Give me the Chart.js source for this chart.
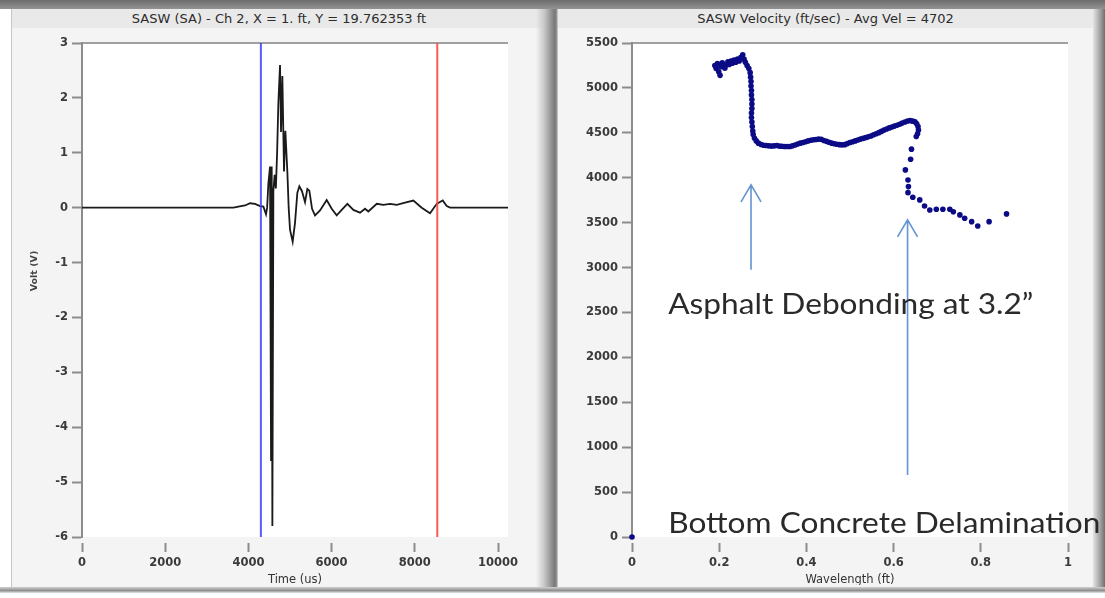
<!DOCTYPE html>
<html>
<head>
<meta charset="utf-8">
<script src="https://cdn.jsdelivr.net/npm/chart.js@4.4.1/dist/chart.umd.min.js"></script>
<style>
  html, body { margin: 0; padding: 0; background: #fff; }
  #stage { position: relative; width: 1105px; height: 598px; overflow: hidden; background: #fff; font-family: "DejaVu Sans", sans-serif; }
  .topbar { position: absolute; left: 0; top: 0; width: 1105px; height: 9px; background: linear-gradient(#6c6c6c, #939393); }
  .panel { position: absolute; top: 9px; height: 578px; background: #f4f4f4; }
  .ptitle { position: absolute; left: 0; right: 0; top: 0; height: 19px; line-height: 19px; text-align: center; font-size: 13px; color: #2c2c2c; background: #e9e9e9; white-space: nowrap; }
  #leftPanel { left: 11px; width: 534px; border-left: 1px solid #c6c6c6; }
  #rightPanel { left: 558px; width: 535px; }
  .sep { position: absolute; left: 536px; top: 9px; width: 22px; height: 578px; background: linear-gradient(to right, rgba(200,200,200,0) 0px, #c9c9c9 8px, #777 19px, #999 21px, #e8e8e8 22px); }
  .redge { position: absolute; left: 1093px; top: 9px; width: 12px; height: 578px; background: linear-gradient(to right, #e4e4e4, #9a9a9a 8px, #6e6e6e); }
  .bottom { position: absolute; left: 0; top: 587px; width: 1105px; height: 6px; background: linear-gradient(#d0d0d0, #8e8e8e 60%, #e6e6e6); }
  canvas { position: absolute; }
  #waveCanvas { left: 12px; top: 28px; }
  #velCanvas { left: 558px; top: 28px; }
</style>
</head>
<body>
<div id="stage">
  <div class="topbar"></div>
  <div class="panel" id="leftPanel"><div class="ptitle">SASW (SA) - Ch 2, X = 1. ft, Y = 19.762353 ft</div></div>
  <div class="panel" id="rightPanel"><div class="ptitle">SASW Velocity (ft/sec) - Avg Vel = 4702</div></div>
  <div class="sep"></div>
  <div class="redge"></div>
  <div class="bottom"></div>
  <canvas id="waveCanvas" width="533" height="557"></canvas>
  <canvas id="velCanvas" width="547" height="557"></canvas>
</div>
<script>
// ---- Time record (channel 2) ----
const timeUs = [0, 3600, 3640, 3760, 3920, 4040, 4160, 4280, 4360, 4423, 4450, 4480, 4520, 4544, 4560, 4576, 4600,
  4630, 4660, 4690, 4720, 4760, 4784, 4816, 4856, 4888, 4936, 4968, 5000, 5064, 5120, 5176, 5224, 5288, 5361, 5417,
  5465, 5530, 5601, 5722, 5882, 6002, 6122, 6243, 6379, 6523, 6683, 6803, 6883, 7085, 7244, 7404, 7565, 7765, 7965,
  8166, 8366, 8527, 8671, 8767, 8847, 10240];
const voltV = [0, 0, 0.0, 0.02, 0.04, 0.08, 0.07, 0.03, 0.02, -0.12, 0.0, 0.44, 0.75, -4.6, 0.75, -5.8, 0.3,
  0.6, 0.35, 1.0, 1.9, 2.6, 1.38, 2.4, 0.66, 1.4, 0.66, 0.0, -0.4, -0.62, -0.28, 0.27, 0.39, 0.3, 0.1, 0.34,
  0.31, -0.02, -0.14, -0.05, 0.14, -0.02, -0.14, -0.04, 0.07, -0.04, -0.09, -0.02, -0.07, 0.07, 0.05, 0.07, 0.05, 0.09, 0.13,
  0.0, -0.1, 0.07, 0.13, 0.03, 0, 0];
const blueCursorUs = 4300;
const redCursorUs = 8540;
const timeTicks = [0, 2000, 4000, 6000, 8000, 10000];
const voltTicks = [3, 2, 1, 0, -1, -2, -3, -4, -5, -6];

// ---- Dispersion curve ----
const wavelengthFt = [0,
  0.190, 0.193, 0.196, 0.199, 0.202, 0.204, 0.207, 0.210, 0.213, 0.216, 0.220, 0.223, 0.227, 0.230, 0.234, 0.238,
  0.242, 0.246, 0.250, 0.254, 0.257, 0.260, 0.264, 0.268,
  0.271, 0.272, 0.273, 0.273, 0.274, 0.274, 0.275, 0.275, 0.275, 0.274, 0.274, 0.275, 0.276, 0.277, 0.278, 0.281,
  0.285, 0.290,
  0.296, 0.302, 0.308, 0.314, 0.320, 0.326, 0.332, 0.338, 0.344, 0.350, 0.356, 0.362, 0.368, 0.374, 0.380, 0.386,
  0.392, 0.398, 0.404, 0.410, 0.416, 0.422, 0.428, 0.434, 0.440, 0.446, 0.452, 0.458, 0.464, 0.470, 0.476, 0.482,
  0.488, 0.494, 0.500, 0.506, 0.512, 0.518, 0.524, 0.530, 0.536, 0.542, 0.548, 0.554, 0.560, 0.566, 0.572, 0.578,
  0.584, 0.590, 0.596, 0.602, 0.608, 0.614, 0.620, 0.626, 0.632, 0.638, 0.644, 0.649, 0.653, 0.656, 0.657, 0.655,
  0.652,
  0.641, 0.639, 0.627, 0.633, 0.634, 0.633, 0.644, 0.660, 0.671, 0.683, 0.698, 0.713, 0.729, 0.737, 0.752, 0.763,
  0.779, 0.793, 0.819, 0.859];
const velocityFtSec = [0,
  5250, 5215, 5270, 5180, 5140, 5235, 5280, 5250, 5220, 5255, 5290, 5260, 5300, 5275, 5310, 5285,
  5320, 5300, 5340, 5370, 5320, 5285, 5250, 5215,
  5170, 5120, 5070, 5020, 4970, 4920, 4870, 4820, 4770, 4720, 4670, 4620, 4570, 4520, 4480, 4440,
  4410, 4385,
  4370, 4362, 4358, 4355, 4352, 4355, 4358, 4352, 4350, 4348, 4347, 4348, 4355, 4365, 4375, 4385,
  4392, 4400, 4410, 4418, 4422, 4426, 4430, 4428, 4415, 4405, 4395, 4385, 4378, 4372, 4368, 4366,
  4368, 4380, 4392, 4400, 4410, 4420, 4430, 4438, 4446, 4455, 4465, 4478, 4490, 4502, 4516, 4530,
  4542, 4555, 4565, 4575, 4585, 4595, 4608, 4620, 4632, 4636, 4630, 4622, 4600, 4570, 4532, 4490,
  4458,
  4318, 4206, 4087, 3975, 3901, 3834, 3783, 3753, 3686, 3641, 3649, 3649, 3649, 3622, 3586, 3549,
  3511, 3463, 3511, 3597];
const wavelengthTicks = [0, 0.2, 0.4, 0.6, 0.8, 1];
const velocityTicks = [0, 500, 1000, 1500, 2000, 2500, 3000, 3500, 4000, 4500, 5000, 5500];

// Callout labels and arrows on the dispersion plot (wavelength, velocity)
const noteText = ['Asphalt Debonding at 3.2\u201D', 'Bottom Concrete Delamination'];
const noteWavelength = [0.083, 0.083];
const noteVelocity = [2483, 45];
const arrowWavelength = [0.273, 0.632];
const arrowFromVelocity = [2975, 690];
const arrowToVelocity = [3920, 3530];

const AXIS_GREY = '#8c8c8c';
const TICK_FONT = { family: 'DejaVu Sans', size: 11.5, weight: 'bold' };

// white plotting field with a grey rule along its top edge
const plotFrame = {
  id: 'plotFrame',
  beforeDraw(chart) {
    const { ctx, chartArea: a } = chart;
    ctx.save();
    ctx.fillStyle = '#ffffff';
    ctx.fillRect(a.left, a.top, a.right - a.left, a.bottom - a.top);
    ctx.strokeStyle = '#a0a0a0';
    ctx.lineWidth = 2;
    ctx.beginPath();
    ctx.moveTo(a.left, a.top);
    ctx.lineTo(a.right, a.top);
    ctx.stroke();
    ctx.restore();
  }
};

// rotated y-axis caption, sitting a little above the axis middle
const voltCaption = {
  id: 'voltCaption',
  afterDraw(chart) {
    const { ctx } = chart;
    ctx.save();
    ctx.translate(23, 243);
    ctx.rotate(-Math.PI / 2);
    ctx.font = 'bold 9.5px "DejaVu Sans"';
    ctx.fillStyle = '#444';
    ctx.textAlign = 'center';
    ctx.textBaseline = 'middle';
    ctx.fillText('Volt (V)', 0, 0);
    ctx.restore();
  }
};

function fixedTicks(values) {
  return scale => { scale.ticks = values.map(v => ({ value: v })); };
}

function xAxis(min, max, ticks, title, height) {
  return {
    type: 'linear', min, max,
    afterBuildTicks: fixedTicks(ticks),
    afterFit: s => { s.height = height; },
    border: { display: false },
    grid: { drawOnChartArea: false, drawTicks: true, tickLength: 16, tickWidth: 2, tickColor: AXIS_GREY, tickBorderDash: [0, 6, 9, 60] },
    ticks: { font: TICK_FONT, color: '#3a3a3a', padding: 3, maxRotation: 0, callback: v => String(v) },
    title: { display: true, text: title, font: { family: 'DejaVu Sans', size: 11.5 }, color: '#333', padding: { top: 0, bottom: -2 } }
  };
}

function yAxis(min, max, ticks, width) {
  return {
    type: 'linear', min, max,
    afterBuildTicks: fixedTicks(ticks),
    afterFit: s => { s.width = width; },
    border: { display: true, color: AXIS_GREY, width: 2 },
    grid: { drawOnChartArea: false, drawTicks: true, tickLength: 10, tickWidth: 2, tickColor: AXIS_GREY },
    ticks: { font: TICK_FONT, color: '#3a3a3a', padding: 4, callback: v => String(v) },
    title: { display: false }
  };
}

// ---- Left: time record with the two window cursors ----
new Chart(document.getElementById('waveCanvas'), {
  type: 'scatter',
  data: {
    datasets: [
      {
        data: timeUs.map((t, i) => ({ x: t, y: voltV[i] })),
        showLine: true, borderColor: '#1a1a1a', borderWidth: 1.8, pointRadius: 0, tension: 0, order: 2
      },
      {
        data: [{ x: blueCursorUs, y: -6 }, { x: blueCursorUs, y: 3 }],
        showLine: true, borderColor: 'rgba(60,60,255,0.85)', borderWidth: 2, pointRadius: 0, order: 1
      },
      {
        data: [{ x: redCursorUs, y: -6 }, { x: redCursorUs, y: 3 }],
        showLine: true, borderColor: 'rgba(255,70,70,0.9)', borderWidth: 2, pointRadius: 0, order: 1
      }
    ]
  },
  options: {
    responsive: false, animation: false, devicePixelRatio: 1,
    layout: { padding: { left: 0, top: 15, right: 37, bottom: 0 } },
    plugins: { legend: { display: false }, tooltip: { enabled: false } },
    scales: {
      x: xAxis(0, 10240, timeTicks, 'Time (us)', 48),
      y: yAxis(-6, 3, voltTicks, 70)
    }
  },
  plugins: [plotFrame, voltCaption]
});

// ---- Right: phase velocity versus wavelength ----
const callouts = {
  id: 'callouts',
  afterDatasetsDraw(chart) {
    const { ctx, scales: { x, y } } = chart;
    ctx.save();
    ctx.strokeStyle = '#6494d2';
    ctx.lineWidth = 1.6;
    arrowWavelength.forEach((w, i) => {
      const px = x.getPixelForValue(w);
      const y0 = y.getPixelForValue(arrowFromVelocity[i]);
      const y1 = y.getPixelForValue(arrowToVelocity[i]);
      ctx.beginPath();
      ctx.moveTo(px, y0); ctx.lineTo(px, y1);
      ctx.moveTo(px - 10, y1 + 17); ctx.lineTo(px, y1); ctx.lineTo(px + 10, y1 + 17);
      ctx.stroke();
    });
    ctx.fillStyle = '#2a2a2a';
    ctx.font = '28px Lato';
    ctx.textBaseline = 'alphabetic';
    noteText.forEach((t, i) => {
      // the callout lettering is set slightly wide
      ctx.save();
      ctx.translate(x.getPixelForValue(noteWavelength[i]), y.getPixelForValue(noteVelocity[i]));
      ctx.scale(1.13, 1);
      ctx.fillText(t, 0, 0);
      ctx.restore();
    });
    ctx.restore();
  }
};

new Chart(document.getElementById('velCanvas'), {
  type: 'scatter',
  data: {
    datasets: [{
      data: wavelengthFt.map((w, i) => ({ x: w, y: velocityFtSec[i] })),
      pointRadius: 2.8, pointBorderWidth: 0, backgroundColor: '#0b0b86', borderColor: '#0b0b86', clip: false
    }]
  },
  options: {
    responsive: false, animation: false, devicePixelRatio: 1,
    layout: { padding: { left: 0, top: 15, right: 37, bottom: 0 } },
    plugins: { legend: { display: false }, tooltip: { enabled: false } },
    scales: {
      x: xAxis(0, 1, wavelengthTicks, 'Wavelength (ft)', 48),
      y: yAxis(0, 5500, velocityTicks, 74)
    }
  },
  plugins: [plotFrame, callouts]
});
</script>
</body>
</html>
